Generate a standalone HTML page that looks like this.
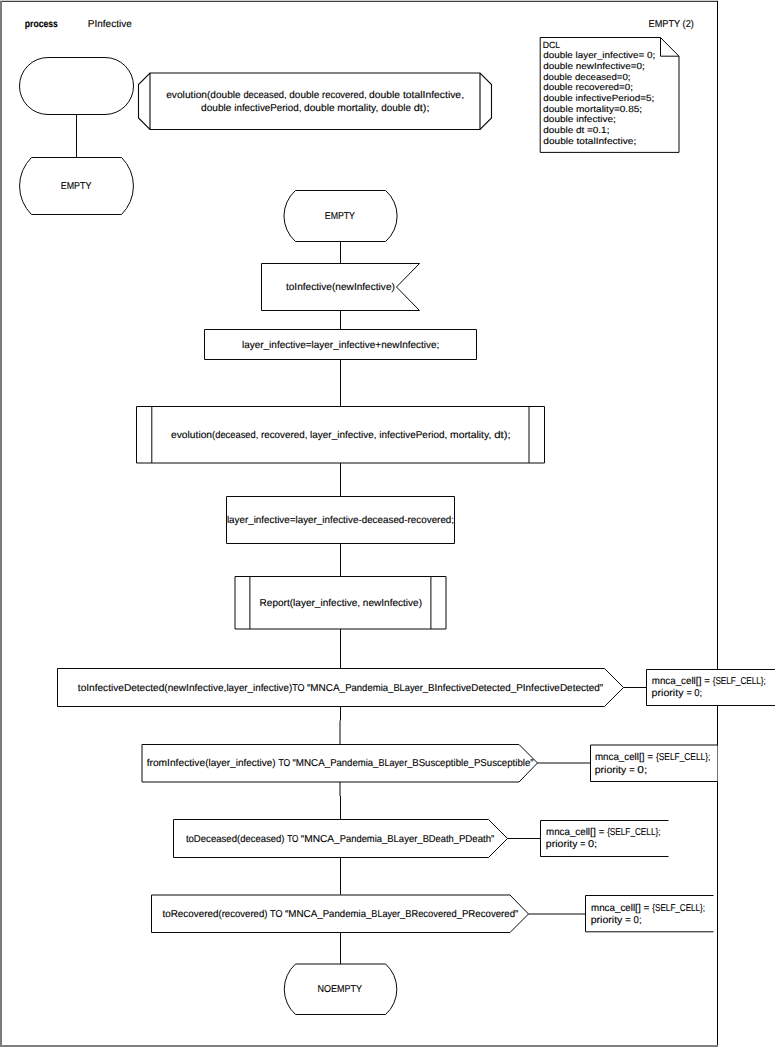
<!DOCTYPE html>
<html><head><meta charset="utf-8"><style>
html,body{margin:0;padding:0;background:#fff;width:775px;height:1047px;overflow:hidden}
svg{display:block;font-family:"Liberation Sans", sans-serif}
text{fill:#000;stroke:#000;stroke-width:0.12px;text-rendering:geometricPrecision}
</style></head><body>
<svg width="775" height="1047" viewBox="0 0 775 1047">
<rect x="0" y="0" width="718" height="1" fill="#cfcfcf"/>
<rect x="0" y="1" width="718" height="1" fill="#404040"/>
<rect x="0" y="1" width="2" height="1046" fill="#7c7c7c"/>
<rect x="0" y="1045" width="718" height="2" fill="#808080"/>
<rect x="717" y="1" width="1" height="1044" fill="#000"/>
<rect x="19.5" y="57.5" width="114" height="57" rx="28.5" ry="28.5" fill="none" stroke="#080808"/>
<path d="M76.5,114.5 V157.5" fill="none" stroke="#080808" stroke-width="1"/>
<path d="M31.5,157.5 H121.5 A40,40 0 0 1 121.5,214.5 H31.5 A40,40 0 0 1 31.5,157.5 Z" fill="none" stroke="#080808" stroke-width="1"/>
<path d="M150,73 H480 L491.5,84.5 V118 L480,129.5 H150 L138.5,118 V84.5 Z" fill="none" stroke="#080808" stroke-width="1.1"/>
<path d="M150,73 V129.5 M480,73 V129.5" fill="none" stroke="#080808" stroke-width="1.1"/>
<path d="M540.2,37.5 H660.5 L679,56.2 V152.4 H540.2 Z M660.5,37.5 V56.2 H679" fill="none" stroke="#080808" stroke-width="1"/>
<path d="M295.5,190.5 H385.6 A34,34 0 0 1 385.6,241.5 H295.5 A34,34 0 0 1 295.5,190.5 Z" fill="none" stroke="#080808" stroke-width="1"/>
<path d="M340.5,241.5 V263.5" fill="none" stroke="#080808" stroke-width="1"/>
<path d="M261.5,263.5 H419.5 L396.5,287 L419.5,310.5 H261.5 Z" fill="none" stroke="#080808" stroke-width="1"/>
<path d="M340.5,310.5 V329.5" fill="none" stroke="#080808" stroke-width="1"/>
<path d="M204.5,329.5 H476.5 V359.5 H204.5 Z" fill="none" stroke="#080808" stroke-width="1"/>
<path d="M340.5,359.5 V406.5" fill="none" stroke="#080808" stroke-width="1"/>
<path d="M136.5,406.5 H544.5 V463 H136.5 Z" fill="none" stroke="#080808" stroke-width="1"/>
<path d="M151.8,406.5 V463 M529,406.5 V463" fill="none" stroke="#080808" stroke-width="1"/>
<path d="M340.5,463 V496.5" fill="none" stroke="#080808" stroke-width="1"/>
<path d="M226.5,496.5 H454.5 V543.5 H226.5 Z" fill="none" stroke="#080808" stroke-width="1"/>
<path d="M340.5,543.5 V576.5" fill="none" stroke="#080808" stroke-width="1"/>
<path d="M235,576.5 H446 V629 H235 Z" fill="none" stroke="#080808" stroke-width="1"/>
<path d="M249.9,576.5 V629 M430.9,576.5 V629" fill="none" stroke="#080808" stroke-width="1"/>
<path d="M340.5,629 V668.5" fill="none" stroke="#080808" stroke-width="1"/>
<path d="M57.5,668.5 H604.5 L623.5,687.5 L604.5,706.5 H57.5 Z" fill="none" stroke="#080808" stroke-width="1"/>
<path d="M623.5,687.5 H646.5" fill="none" stroke="#080808" stroke-width="1"/>
<path d="M775,669.5 H646.5 V705.5 H775" fill="#fff" stroke="#080808" stroke-width="1"/>
<path d="M340.5,706.5 V720.5 M340,720.5 V744.5" fill="none" stroke="#080808" stroke-width="1"/>
<path d="M142,744.5 H519 L537.5,763 L519,782 H142 Z" fill="none" stroke="#080808" stroke-width="1"/>
<path d="M537.5,763 H590.5" fill="none" stroke="#080808" stroke-width="1"/>
<path d="M717,745 H590.5 V781.5 H717" fill="#fff" stroke="#080808" stroke-width="1"/>
<rect x="717" y="745.5" width="1" height="36" fill="#fff" fill-opacity="0.45"/>
<path d="M340,782 V796 M340.5,796 V819.5" fill="none" stroke="#080808" stroke-width="1"/>
<path d="M173.5,819.5 H488.5 L507.5,838.5 L488.5,857.5 H173.5 Z" fill="none" stroke="#080808" stroke-width="1"/>
<path d="M507.5,838.5 H540.5" fill="none" stroke="#080808" stroke-width="1"/>
<path d="M668.5,820.5 H540.5 V856.5 H668.5" fill="#fff" stroke="#080808" stroke-width="1"/>
<path d="M340.5,857.5 V894.5" fill="none" stroke="#080808" stroke-width="1"/>
<path d="M151.5,895 H510 L528.5,914 L510,932.5 H151.5 Z" fill="none" stroke="#080808" stroke-width="1"/>
<path d="M528.5,914 H585.5" fill="none" stroke="#080808" stroke-width="1"/>
<path d="M713.5,895.5 H585.5 V931.8 H713.5" fill="#fff" stroke="#080808" stroke-width="1"/>
<path d="M340.5,932.5 V964" fill="none" stroke="#080808" stroke-width="1"/>
<path d="M295.5,964 H385.6 A34,34 0 0 1 385.6,1014.5 H295.5 A34,34 0 0 1 295.5,964 Z" fill="none" stroke="#080808" stroke-width="1"/>
<text x="24.81" y="27.0" textLength="33.10" lengthAdjust="spacingAndGlyphs" font-size="10" font-weight="bold" xml:space="preserve">process</text>
<text x="87.83" y="27.0" textLength="43.88" lengthAdjust="spacingAndGlyphs" font-size="10" font-weight="normal" xml:space="preserve">PInfective</text>
<text x="648.56" y="26.7" textLength="45.26" lengthAdjust="spacingAndGlyphs" font-size="10" font-weight="normal" xml:space="preserve">EMPTY (2)</text>
<text x="60.79" y="188.9" textLength="30.51" lengthAdjust="spacingAndGlyphs" font-size="10" font-weight="normal" xml:space="preserve">EMPTY</text>
<text x="166.18" y="97.8" textLength="40.85" lengthAdjust="spacingAndGlyphs" font-size="10" font-weight="normal" xml:space="preserve">evolution</text>
<text x="207.03" y="97.8" textLength="36.39" lengthAdjust="spacingAndGlyphs" font-size="10" font-weight="normal" xml:space="preserve">(double </text>
<text x="243.42" y="97.8" textLength="45.86" lengthAdjust="spacingAndGlyphs" font-size="10" font-weight="normal" xml:space="preserve">deceased, </text>
<text x="289.28" y="97.8" textLength="32.81" lengthAdjust="spacingAndGlyphs" font-size="10" font-weight="normal" xml:space="preserve">double </text>
<text x="322.09" y="97.8" textLength="47.05" lengthAdjust="spacingAndGlyphs" font-size="10" font-weight="normal" xml:space="preserve">recovered, </text>
<text x="369.14" y="97.8" textLength="33.80" lengthAdjust="spacingAndGlyphs" font-size="10" font-weight="normal" xml:space="preserve">double </text>
<text x="402.94" y="97.8" textLength="61.08" lengthAdjust="spacingAndGlyphs" font-size="10" font-weight="normal" xml:space="preserve">totalInfective,</text>
<text x="201.04" y="110.5" textLength="33.20" lengthAdjust="spacingAndGlyphs" font-size="10" font-weight="normal" xml:space="preserve">double </text>
<text x="234.25" y="110.5" textLength="69.85" lengthAdjust="spacingAndGlyphs" font-size="10" font-weight="normal" xml:space="preserve">infectivePeriod, </text>
<text x="304.09" y="110.5" textLength="33.30" lengthAdjust="spacingAndGlyphs" font-size="10" font-weight="normal" xml:space="preserve">double </text>
<text x="337.39" y="110.5" textLength="43.86" lengthAdjust="spacingAndGlyphs" font-size="10" font-weight="normal" xml:space="preserve">mortality, </text>
<text x="381.25" y="110.5" textLength="32.47" lengthAdjust="spacingAndGlyphs" font-size="10" font-weight="normal" xml:space="preserve">double </text>
<text x="413.72" y="110.5" textLength="15.79" lengthAdjust="spacingAndGlyphs" font-size="10" font-weight="normal" xml:space="preserve">dt);</text>
<text x="542.82" y="47.7" textLength="17.41" lengthAdjust="spacingAndGlyphs" font-size="9" font-weight="normal" xml:space="preserve">DCL</text>
<text x="543.27" y="58.37" textLength="111.90" lengthAdjust="spacingAndGlyphs" font-size="9" font-weight="normal" xml:space="preserve">double layer_infective= 0;</text>
<text x="543.29" y="69.04" textLength="101.59" lengthAdjust="spacingAndGlyphs" font-size="9" font-weight="normal" xml:space="preserve">double newInfective=0;</text>
<text x="543.24" y="79.71" textLength="87.31" lengthAdjust="spacingAndGlyphs" font-size="9" font-weight="normal" xml:space="preserve">double deceased=0;</text>
<text x="543.26" y="90.38" textLength="89.74" lengthAdjust="spacingAndGlyphs" font-size="9" font-weight="normal" xml:space="preserve">double recovered=0;</text>
<text x="543.27" y="101.05" textLength="110.90" lengthAdjust="spacingAndGlyphs" font-size="9" font-weight="normal" xml:space="preserve">double infectivePeriod=5;</text>
<text x="543.10" y="111.72" textLength="98.99" lengthAdjust="spacingAndGlyphs" font-size="9" font-weight="normal" xml:space="preserve">double mortality=0.85;</text>
<text x="543.29" y="122.39" textLength="72.58" lengthAdjust="spacingAndGlyphs" font-size="9" font-weight="normal" xml:space="preserve">double infective;</text>
<text x="543.28" y="133.06" textLength="66.17" lengthAdjust="spacingAndGlyphs" font-size="9" font-weight="normal" xml:space="preserve">double dt =0.1;</text>
<text x="543.29" y="143.73" textLength="92.92" lengthAdjust="spacingAndGlyphs" font-size="9" font-weight="normal" xml:space="preserve">double totalInfective;</text>
<text x="324.81" y="218.7" textLength="30.17" lengthAdjust="spacingAndGlyphs" font-size="10" font-weight="normal" xml:space="preserve">EMPTY</text>
<text x="285.95" y="289.7" textLength="108.94" lengthAdjust="spacingAndGlyphs" font-size="10" font-weight="normal" xml:space="preserve">toInfective(newInfective)</text>
<text x="241.95" y="348.1" textLength="197.46" lengthAdjust="spacingAndGlyphs" font-size="10" font-weight="normal" xml:space="preserve">layer_infective=layer_infective+newInfective;</text>
<text x="170.99" y="437.8" textLength="41.10" lengthAdjust="spacingAndGlyphs" font-size="10" font-weight="normal" xml:space="preserve">evolution</text>
<text x="212.09" y="437.8" textLength="48.81" lengthAdjust="spacingAndGlyphs" font-size="10" font-weight="normal" xml:space="preserve">(deceased, </text>
<text x="260.90" y="437.8" textLength="49.22" lengthAdjust="spacingAndGlyphs" font-size="10" font-weight="normal" xml:space="preserve">recovered, </text>
<text x="310.12" y="437.8" textLength="69.10" lengthAdjust="spacingAndGlyphs" font-size="10" font-weight="normal" xml:space="preserve">layer_infective, </text>
<text x="379.22" y="437.8" textLength="70.83" lengthAdjust="spacingAndGlyphs" font-size="10" font-weight="normal" xml:space="preserve">infectivePeriod, </text>
<text x="450.05" y="437.8" textLength="44.11" lengthAdjust="spacingAndGlyphs" font-size="10" font-weight="normal" xml:space="preserve">mortality, </text>
<text x="494.16" y="437.8" textLength="16.46" lengthAdjust="spacingAndGlyphs" font-size="10" font-weight="normal" xml:space="preserve">dt);</text>
<text x="226.88" y="522.8" textLength="227.21" lengthAdjust="spacingAndGlyphs" font-size="10" font-weight="normal" xml:space="preserve">layer_infective=layer_infective-deceased-recovered;</text>
<text x="259.61" y="606.0" textLength="162.44" lengthAdjust="spacingAndGlyphs" font-size="10" font-weight="normal" xml:space="preserve">Report(layer_infective, newInfective)</text>
<text x="77.86" y="691.0" textLength="86.44" lengthAdjust="spacingAndGlyphs" font-size="10" font-weight="normal" xml:space="preserve">toInfectiveDetected</text>
<text x="164.30" y="691.0" textLength="62.10" lengthAdjust="spacingAndGlyphs" font-size="10" font-weight="normal" xml:space="preserve">(newInfective,</text>
<text x="226.40" y="691.0" textLength="65.80" lengthAdjust="spacingAndGlyphs" font-size="10" font-weight="normal" xml:space="preserve">layer_infective)</text>
<text x="292.20" y="691.0" textLength="14.82" lengthAdjust="spacingAndGlyphs" font-size="10" font-weight="normal" xml:space="preserve">TO </text>
<text x="307.02" y="691.0" textLength="38.13" lengthAdjust="spacingAndGlyphs" font-size="10" font-weight="normal" xml:space="preserve">“MNCA_</text>
<text x="345.15" y="691.0" textLength="48.24" lengthAdjust="spacingAndGlyphs" font-size="10" font-weight="normal" xml:space="preserve">Pandemia_</text>
<text x="393.39" y="691.0" textLength="34.66" lengthAdjust="spacingAndGlyphs" font-size="10" font-weight="normal" xml:space="preserve">BLayer_</text>
<text x="428.05" y="691.0" textLength="88.12" lengthAdjust="spacingAndGlyphs" font-size="10" font-weight="normal" xml:space="preserve">BInfectiveDetected_</text>
<text x="516.17" y="691.0" textLength="86.96" lengthAdjust="spacingAndGlyphs" font-size="10" font-weight="normal" xml:space="preserve">PInfectiveDetected”</text>
<text x="651.76" y="683.6" textLength="44.05" lengthAdjust="spacingAndGlyphs" font-size="10" font-weight="normal" xml:space="preserve">mnca_cell</text>
<text x="695.81" y="683.6" textLength="8.50" lengthAdjust="spacingAndGlyphs" font-size="10" font-weight="normal" xml:space="preserve">[] </text>
<text x="704.31" y="683.6" textLength="8.34" lengthAdjust="spacingAndGlyphs" font-size="10" font-weight="normal" xml:space="preserve">= </text>
<text x="712.65" y="683.6" textLength="53.23" lengthAdjust="spacingAndGlyphs" font-size="10" font-weight="normal" xml:space="preserve">{SELF_CELL};</text>
<text x="651.64" y="695.8" textLength="34.78" lengthAdjust="spacingAndGlyphs" font-size="10" font-weight="normal" xml:space="preserve">priority </text>
<text x="686.42" y="695.8" textLength="7.74" lengthAdjust="spacingAndGlyphs" font-size="10" font-weight="normal" xml:space="preserve">= </text>
<text x="694.16" y="695.8" textLength="7.87" lengthAdjust="spacingAndGlyphs" font-size="10" font-weight="normal" xml:space="preserve">0;</text>
<text x="146.66" y="765.5" textLength="58.49" lengthAdjust="spacingAndGlyphs" font-size="10" font-weight="normal" xml:space="preserve">fromInfective</text>
<text x="205.15" y="765.5" textLength="73.24" lengthAdjust="spacingAndGlyphs" font-size="10" font-weight="normal" xml:space="preserve">(layer_infective) </text>
<text x="278.39" y="765.5" textLength="14.23" lengthAdjust="spacingAndGlyphs" font-size="10" font-weight="normal" xml:space="preserve">TO </text>
<text x="292.62" y="765.5" textLength="37.53" lengthAdjust="spacingAndGlyphs" font-size="10" font-weight="normal" xml:space="preserve">“MNCA_</text>
<text x="330.15" y="765.5" textLength="48.26" lengthAdjust="spacingAndGlyphs" font-size="10" font-weight="normal" xml:space="preserve">Pandemia_</text>
<text x="378.41" y="765.5" textLength="33.84" lengthAdjust="spacingAndGlyphs" font-size="10" font-weight="normal" xml:space="preserve">BLayer_</text>
<text x="412.25" y="765.5" textLength="61.64" lengthAdjust="spacingAndGlyphs" font-size="10" font-weight="normal" xml:space="preserve">BSusceptible_</text>
<text x="473.89" y="765.5" textLength="59.72" lengthAdjust="spacingAndGlyphs" font-size="10" font-weight="normal" xml:space="preserve">PSusceptible”</text>
<text x="594.94" y="759.7" textLength="43.98" lengthAdjust="spacingAndGlyphs" font-size="10" font-weight="normal" xml:space="preserve">mnca_cell</text>
<text x="638.92" y="759.7" textLength="8.32" lengthAdjust="spacingAndGlyphs" font-size="10" font-weight="normal" xml:space="preserve">[] </text>
<text x="647.24" y="759.7" textLength="8.69" lengthAdjust="spacingAndGlyphs" font-size="10" font-weight="normal" xml:space="preserve">= </text>
<text x="655.92" y="759.7" textLength="54.50" lengthAdjust="spacingAndGlyphs" font-size="10" font-weight="normal" xml:space="preserve">{SELF_CELL};</text>
<text x="594.79" y="772.5" textLength="34.42" lengthAdjust="spacingAndGlyphs" font-size="10" font-weight="normal" xml:space="preserve">priority </text>
<text x="629.22" y="772.5" textLength="8.07" lengthAdjust="spacingAndGlyphs" font-size="10" font-weight="normal" xml:space="preserve">= </text>
<text x="637.29" y="772.5" textLength="9.96" lengthAdjust="spacingAndGlyphs" font-size="10" font-weight="normal" xml:space="preserve">0;</text>
<text x="185.89" y="841.9" textLength="51.16" lengthAdjust="spacingAndGlyphs" font-size="10" font-weight="normal" xml:space="preserve">toDeceased</text>
<text x="237.06" y="841.9" textLength="50.13" lengthAdjust="spacingAndGlyphs" font-size="10" font-weight="normal" xml:space="preserve">(deceased) </text>
<text x="287.18" y="841.9" textLength="13.61" lengthAdjust="spacingAndGlyphs" font-size="10" font-weight="normal" xml:space="preserve">TO </text>
<text x="300.80" y="841.9" textLength="38.90" lengthAdjust="spacingAndGlyphs" font-size="10" font-weight="normal" xml:space="preserve">“MNCA_</text>
<text x="339.69" y="841.9" textLength="47.55" lengthAdjust="spacingAndGlyphs" font-size="10" font-weight="normal" xml:space="preserve">Pandemia_</text>
<text x="387.24" y="841.9" textLength="35.43" lengthAdjust="spacingAndGlyphs" font-size="10" font-weight="normal" xml:space="preserve">BLayer_</text>
<text x="422.66" y="841.9" textLength="36.21" lengthAdjust="spacingAndGlyphs" font-size="10" font-weight="normal" xml:space="preserve">BDeath_</text>
<text x="458.88" y="841.9" textLength="35.46" lengthAdjust="spacingAndGlyphs" font-size="10" font-weight="normal" xml:space="preserve">PDeath”</text>
<text x="546.01" y="834.6" textLength="44.01" lengthAdjust="spacingAndGlyphs" font-size="10" font-weight="normal" xml:space="preserve">mnca_cell</text>
<text x="590.03" y="834.6" textLength="8.81" lengthAdjust="spacingAndGlyphs" font-size="10" font-weight="normal" xml:space="preserve">[] </text>
<text x="598.83" y="834.6" textLength="8.31" lengthAdjust="spacingAndGlyphs" font-size="10" font-weight="normal" xml:space="preserve">= </text>
<text x="607.14" y="834.6" textLength="53.36" lengthAdjust="spacingAndGlyphs" font-size="10" font-weight="normal" xml:space="preserve">{SELF_CELL};</text>
<text x="545.87" y="846.5" textLength="34.49" lengthAdjust="spacingAndGlyphs" font-size="10" font-weight="normal" xml:space="preserve">priority </text>
<text x="580.36" y="846.5" textLength="7.61" lengthAdjust="spacingAndGlyphs" font-size="10" font-weight="normal" xml:space="preserve">= </text>
<text x="587.96" y="846.5" textLength="9.11" lengthAdjust="spacingAndGlyphs" font-size="10" font-weight="normal" xml:space="preserve">0;</text>
<text x="162.41" y="917.0" textLength="56.03" lengthAdjust="spacingAndGlyphs" font-size="10" font-weight="normal" xml:space="preserve">toRecovered</text>
<text x="218.44" y="917.0" textLength="51.66" lengthAdjust="spacingAndGlyphs" font-size="10" font-weight="normal" xml:space="preserve">(recovered) </text>
<text x="270.10" y="917.0" textLength="14.92" lengthAdjust="spacingAndGlyphs" font-size="10" font-weight="normal" xml:space="preserve">TO </text>
<text x="285.02" y="917.0" textLength="37.66" lengthAdjust="spacingAndGlyphs" font-size="10" font-weight="normal" xml:space="preserve">“MNCA_</text>
<text x="322.68" y="917.0" textLength="48.66" lengthAdjust="spacingAndGlyphs" font-size="10" font-weight="normal" xml:space="preserve">Pandemia_</text>
<text x="371.35" y="917.0" textLength="33.82" lengthAdjust="spacingAndGlyphs" font-size="10" font-weight="normal" xml:space="preserve">BLayer_</text>
<text x="405.16" y="917.0" textLength="56.74" lengthAdjust="spacingAndGlyphs" font-size="10" font-weight="normal" xml:space="preserve">BRecovered_</text>
<text x="461.91" y="917.0" textLength="56.37" lengthAdjust="spacingAndGlyphs" font-size="10" font-weight="normal" xml:space="preserve">PRecovered”</text>
<text x="591.02" y="910.6" textLength="44.08" lengthAdjust="spacingAndGlyphs" font-size="10" font-weight="normal" xml:space="preserve">mnca_cell</text>
<text x="635.10" y="910.6" textLength="8.51" lengthAdjust="spacingAndGlyphs" font-size="10" font-weight="normal" xml:space="preserve">[] </text>
<text x="643.61" y="910.6" textLength="8.76" lengthAdjust="spacingAndGlyphs" font-size="10" font-weight="normal" xml:space="preserve">= </text>
<text x="652.36" y="910.6" textLength="52.70" lengthAdjust="spacingAndGlyphs" font-size="10" font-weight="normal" xml:space="preserve">{SELF_CELL};</text>
<text x="590.70" y="922.5" textLength="34.61" lengthAdjust="spacingAndGlyphs" font-size="10" font-weight="normal" xml:space="preserve">priority </text>
<text x="625.31" y="922.5" textLength="8.23" lengthAdjust="spacingAndGlyphs" font-size="10" font-weight="normal" xml:space="preserve">= </text>
<text x="633.54" y="922.5" textLength="8.02" lengthAdjust="spacingAndGlyphs" font-size="10" font-weight="normal" xml:space="preserve">0;</text>
<text x="317.53" y="991.9" textLength="44.59" lengthAdjust="spacingAndGlyphs" font-size="10" font-weight="normal" xml:space="preserve">NOEMPTY</text>
</svg>
</body></html>
